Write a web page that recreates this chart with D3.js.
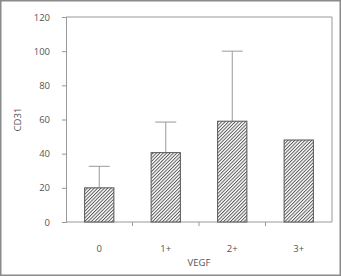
<!DOCTYPE html>
<html>
<head>
<meta charset="utf-8">
<script src="https://cdn.jsdelivr.net/npm/d3@7"></script>
<style>
  body { margin: 0; background: #fff; }
  svg text { font-family: "Open Sans", sans-serif; fill: #555; }
</style>
</head>
<body>
<div id="chart"></div>
<script>
var width = 341;
var height = 276;

var categories = ["0", "1+", "2+", "3+"];
var means = [20, 40.6, 59, 48];
var errTops = [32.6, 58.5, 100, null];
var yTicks = [0, 20, 40, 60, 80, 100, 120];

var margin = { left: 66, right: 9, top: 17, bottom: 54 };

var svg = d3.select("#chart").append("svg")
    .attr("width", width)
    .attr("height", height);

// outer frame
svg.append("rect")
    .attr("x", 0.75).attr("y", 0.75)
    .attr("width", width - 1.5).attr("height", height - 1.5)
    .attr("fill", "#fff")
    .attr("stroke", "#8a8a8a")
    .attr("stroke-width", 1.5);

var defs = svg.append("defs");
var hs = 2.4;
var pat = defs.append("pattern")
    .attr("id", "hatch")
    .attr("patternUnits", "userSpaceOnUse")
    .attr("width", hs).attr("height", hs)
    .attr("patternTransform", "rotate(45)");
pat.append("rect").attr("width", hs).attr("height", hs).attr("fill", "#fff");
pat.append("line")
    .attr("x1", 0.5).attr("y1", 0).attr("x2", 0.5).attr("y2", hs)
    .attr("stroke", "#4a4a4a").attr("stroke-width", 0.9);

var x = d3.scaleBand()
    .domain(categories)
    .range([margin.left, width - margin.right])
    .paddingInner(0.56)
    .paddingOuter(0.28);

var y = d3.scaleLinear()
    .domain([0, 120])
    .range([height - margin.bottom, margin.top]);

var x0 = margin.left, x1 = width - margin.right;
var yTop = y(120), yBot = y(0);

// plot box (top and right sides)
svg.append("path")
    .attr("d", "M" + x0 + "," + yTop + "H" + x1 + "V" + yBot)
    .attr("fill", "none")
    .attr("stroke", "#999")
    .attr("stroke-width", 1);

// y axis
var yAxis = svg.append("g")
    .attr("transform", "translate(" + x0 + ",0)")
    .call(d3.axisLeft(y).tickValues(yTicks).tickSize(4).tickPadding(12));
yAxis.select(".domain").attr("stroke", "#999");
yAxis.selectAll(".tick line").attr("stroke", "#999");
yAxis.selectAll("text").style("font-size", "9.5px").attr("fill", "#555");

// x axis: ticks at band boundaries
var boundaries = categories.slice(1).map(function(c) {
    return x(c) - x.step() * x.paddingInner() / 2;
});
svg.append("line")
    .attr("x1", x0).attr("x2", x1)
    .attr("y1", yBot).attr("y2", yBot)
    .attr("stroke", "#999");
svg.selectAll(".xtick")
    .data(boundaries)
    .enter().append("line")
    .attr("class", "xtick")
    .attr("x1", function(d) { return d; })
    .attr("x2", function(d) { return d; })
    .attr("y1", yBot).attr("y2", yBot + 4)
    .attr("stroke", "#999");

svg.selectAll(".xlabel")
    .data(categories)
    .enter().append("text")
    .attr("class", "xlabel")
    .attr("x", function(d) { return x(d) + x.bandwidth() / 2; })
    .attr("y", yBot + 30)
    .attr("text-anchor", "middle")
    .style("font-size", "9.5px")
    .text(function(d) { return d; });

// error bars
var errData = categories.map(function(c, i) { return { c: c, m: means[i], e: errTops[i] }; })
    .filter(function(d) { return d.e != null; });
var capW = 21;
svg.selectAll(".err")
    .data(errData)
    .enter().append("path")
    .attr("class", "err")
    .attr("d", function(d) {
        var cx = x(d.c) + x.bandwidth() / 2;
        return "M" + cx + "," + y(d.m) + "V" + y(d.e) +
            "M" + (cx - capW / 2) + "," + y(d.e) + "H" + (cx + capW / 2);
    })
    .attr("fill", "none")
    .attr("stroke", "#999")
    .attr("stroke-width", 1);

// bars
svg.selectAll(".bar")
    .data(categories)
    .enter().append("rect")
    .attr("class", "bar")
    .attr("x", function(d) { return x(d); })
    .attr("y", function(d, i) { return y(means[i]); })
    .attr("width", x.bandwidth())
    .attr("height", function(d, i) { return yBot - y(means[i]); })
    .attr("fill", "url(#hatch)")
    .attr("stroke", "#555")
    .attr("stroke-width", 1);

// axis titles
svg.append("text")
    .attr("x", (x0 + x1) / 2)
    .attr("y", yBot + 44)
    .attr("text-anchor", "middle")
    .style("font-size", "9.5px")
    .text("VEGF");

svg.append("text")
    .attr("transform", "translate(21," + ((yTop + yBot) / 2) + ") rotate(-90)")
    .attr("text-anchor", "middle")
    .style("font-size", "9.5px")
    .text("CD31");
</script>
</body>
</html>
